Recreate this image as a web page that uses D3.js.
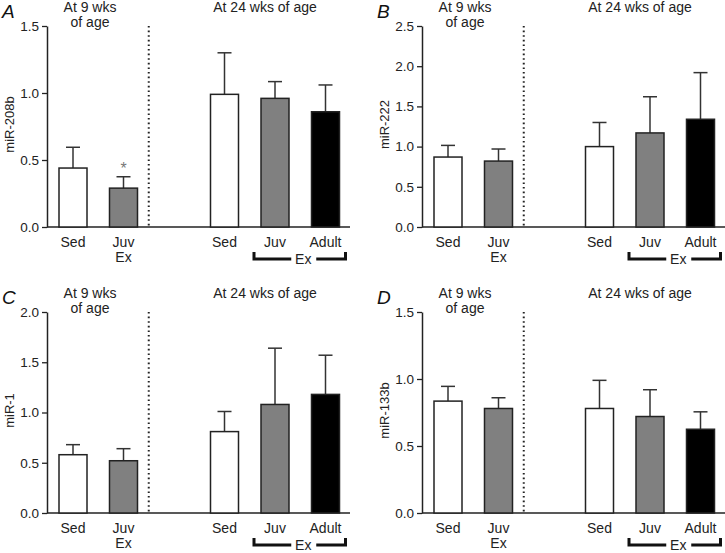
<!DOCTYPE html>
<html><head><meta charset="utf-8">
<script src="https://cdn.jsdelivr.net/npm/d3@7"></script>
<style>
html,body{margin:0;padding:0;background:#fff;}
svg{display:block;font-family:"Liberation Sans",Arial,Helvetica,sans-serif;}
</style></head>
<body>
<svg id="chart" width="725" height="553"></svg>
<script>
// ---- data ----
const panelLetters = ["A", "B", "C", "D"];
const yTitles = ["miR-208b", "miR-222", "miR-1", "miR-133b"];
const yMaxes = [1.5, 2.5, 2.0, 1.5];
const categories = ["Sed9", "JuvEx9", "Sed24", "Juv24", "Adult24"];
const xLabels = ["Sed", "Juv", "Sed", "Juv", "Adult"];
const meansA = [0.44, 0.29, 0.99, 0.96, 0.86];
const semA   = [0.155, 0.085, 0.31, 0.125, 0.20];
const meansB = [0.87, 0.82, 1.00, 1.17, 1.34];
const semB   = [0.145, 0.15, 0.30, 0.45, 0.58];
const meansC = [0.58, 0.52, 0.81, 1.08, 1.18];
const semC   = [0.10, 0.12, 0.20, 0.56, 0.39];
const meansD = [0.835, 0.78, 0.78, 0.72, 0.625];
const semD   = [0.11, 0.08, 0.21, 0.20, 0.13];
const allMeans = [meansA, meansB, meansC, meansD];
const allSem = [semA, semB, semC, semD];
const significant = [[false, true, false, false, false], [false,false,false,false,false], [false,false,false,false,false], [false,false,false,false,false]];

const fills = ["#ffffff", "#808080", "#ffffff", "#808080", "#000000"];
const ink = "#222";

const svg = d3.select("#chart");
const origins = [[0, 0], [375, 0], [0, 286], [375, 286]];

origins.forEach((o, p) => {
  const [ox, oy] = o;
  const axisX = ox + 47, yTop = oy + 26, yBot = oy + 227, xEnd = ox + 350;
  const g = svg.append("g");
  const y = d3.scaleLinear().domain([0, yMaxes[p]]).range([yBot, yTop]);
  // slots: two young groups, one gap, three old groups
  const slots = ["Sed9", "JuvEx9", "gap", "Sed24", "Juv24", "Adult24"];
  const x = d3.scalePoint().domain(slots).range([axisX + 26, axisX + 278.5]);
  const bw = 28;

  // y axis
  const ticks = d3.range(0, yMaxes[p] + 1e-9, 0.5);
  const ax = d3.axisLeft(y).tickValues(ticks).tickFormat(d3.format(".1f")).tickSize(5).tickSizeOuter(0).tickPadding(3);
  const axg = g.append("g").attr("transform", `translate(${axisX},0)`).call(ax);
  axg.select(".domain").attr("stroke", ink).attr("stroke-width", 1.5);
  axg.selectAll(".tick line").attr("stroke", ink).attr("stroke-width", 1.3);
  axg.selectAll(".tick text").attr("fill", ink).attr("font-size", 13.5).attr("font-family", "Liberation Sans, Arial, sans-serif");

  // x baseline
  g.append("line").attr("x1", axisX).attr("x2", xEnd).attr("y1", yBot).attr("y2", yBot)
    .attr("stroke", ink).attr("stroke-width", 1.5);

  // dotted divider
  const dx = (x("JuvEx9") + x("gap")) / 2;
  g.append("line").attr("x1", dx).attr("x2", dx).attr("y1", yTop).attr("y2", yBot)
    .attr("stroke", ink).attr("stroke-width", 2).attr("stroke-dasharray", "1.6,3");

  const data = categories.map((c, i) => ({ c, m: allMeans[p][i], s: allSem[p][i], f: fills[i], sig: significant[p][i], lab: xLabels[i] }));

  // error bars (upper)
  data.forEach(d => {
    const cx = x(d.c);
    g.append("line").attr("x1", cx).attr("x2", cx).attr("y1", y(d.m)).attr("y2", y(d.m + d.s))
      .attr("stroke", "#333").attr("stroke-width", 1.5);
    g.append("line").attr("x1", cx - 7).attr("x2", cx + 7).attr("y1", y(d.m + d.s)).attr("y2", y(d.m + d.s))
      .attr("stroke", "#333").attr("stroke-width", 1.5);
  });
  // bars
  g.selectAll("rect.bar").data(data).enter().append("rect").attr("class", "bar")
    .attr("x", d => x(d.c) - bw / 2).attr("width", bw)
    .attr("y", d => y(d.m)).attr("height", d => yBot - y(d.m))
    .attr("fill", d => d.f).attr("stroke", ink).attr("stroke-width", 1.5);
  // significance
  data.filter(d => d.sig).forEach(d => {
    g.append("text").attr("x", x(d.c)).attr("y", y(d.m + d.s) - 3).attr("text-anchor", "middle")
      .attr("font-size", 16).attr("fill", "#777").text("*");
  });

  // x labels
  data.forEach(d => {
    g.append("text").attr("x", x(d.c)).attr("y", oy + 247).attr("text-anchor", "middle")
      .attr("font-size", 14).attr("fill", ink).text(d.lab);
  });
  g.append("text").attr("x", x("JuvEx9")).attr("y", oy + 262).attr("text-anchor", "middle")
    .attr("font-size", 14).attr("fill", ink).text("Ex");

  // Ex bracket for 24-wk exercise groups
  const bl = x("Juv24") - 21, br = x("Adult24") + 20, bc = (x("Juv24") + x("Adult24")) / 2 + 3;
  const by = oy + 259;
  g.append("path").attr("d", `M${bl},${by - 7}V${by}H${bc - 12}`).attr("fill", "none").attr("stroke", "#111").attr("stroke-width", 3);
  g.append("path").attr("d", `M${bc + 13},${by}H${br}V${by - 7}`).attr("fill", "none").attr("stroke", "#111").attr("stroke-width", 3);
  g.append("text").attr("x", bc).attr("y", oy + 264).attr("text-anchor", "middle")
    .attr("font-size", 14).attr("fill", ink).text("Ex");

  // group titles
  const t9x = axisX + 43;
  g.append("text").attr("x", t9x).attr("y", oy + 12).attr("text-anchor", "middle").attr("font-size", 14).attr("fill", ink).text("At 9 wks");
  g.append("text").attr("x", t9x).attr("y", oy + 27).attr("text-anchor", "middle").attr("font-size", 14).attr("fill", ink).text("of age");
  g.append("text").attr("x", axisX + 218).attr("y", oy + 12).attr("text-anchor", "middle").attr("font-size", 14).attr("fill", ink).text("At 24 wks of age");

  // panel letter
  g.append("text").attr("x", ox + 2).attr("y", oy + 18).attr("font-size", 19).attr("font-style", "italic").attr("fill", "#111").text(panelLetters[p]);

  // y title
  g.append("text").attr("transform", `translate(${ox + 14},${(yTop + yBot) / 2 - 2}) rotate(-90)`)
    .attr("text-anchor", "middle").attr("font-size", 13).attr("fill", ink).text(yTitles[p]);
});
</script>
</body></html>
